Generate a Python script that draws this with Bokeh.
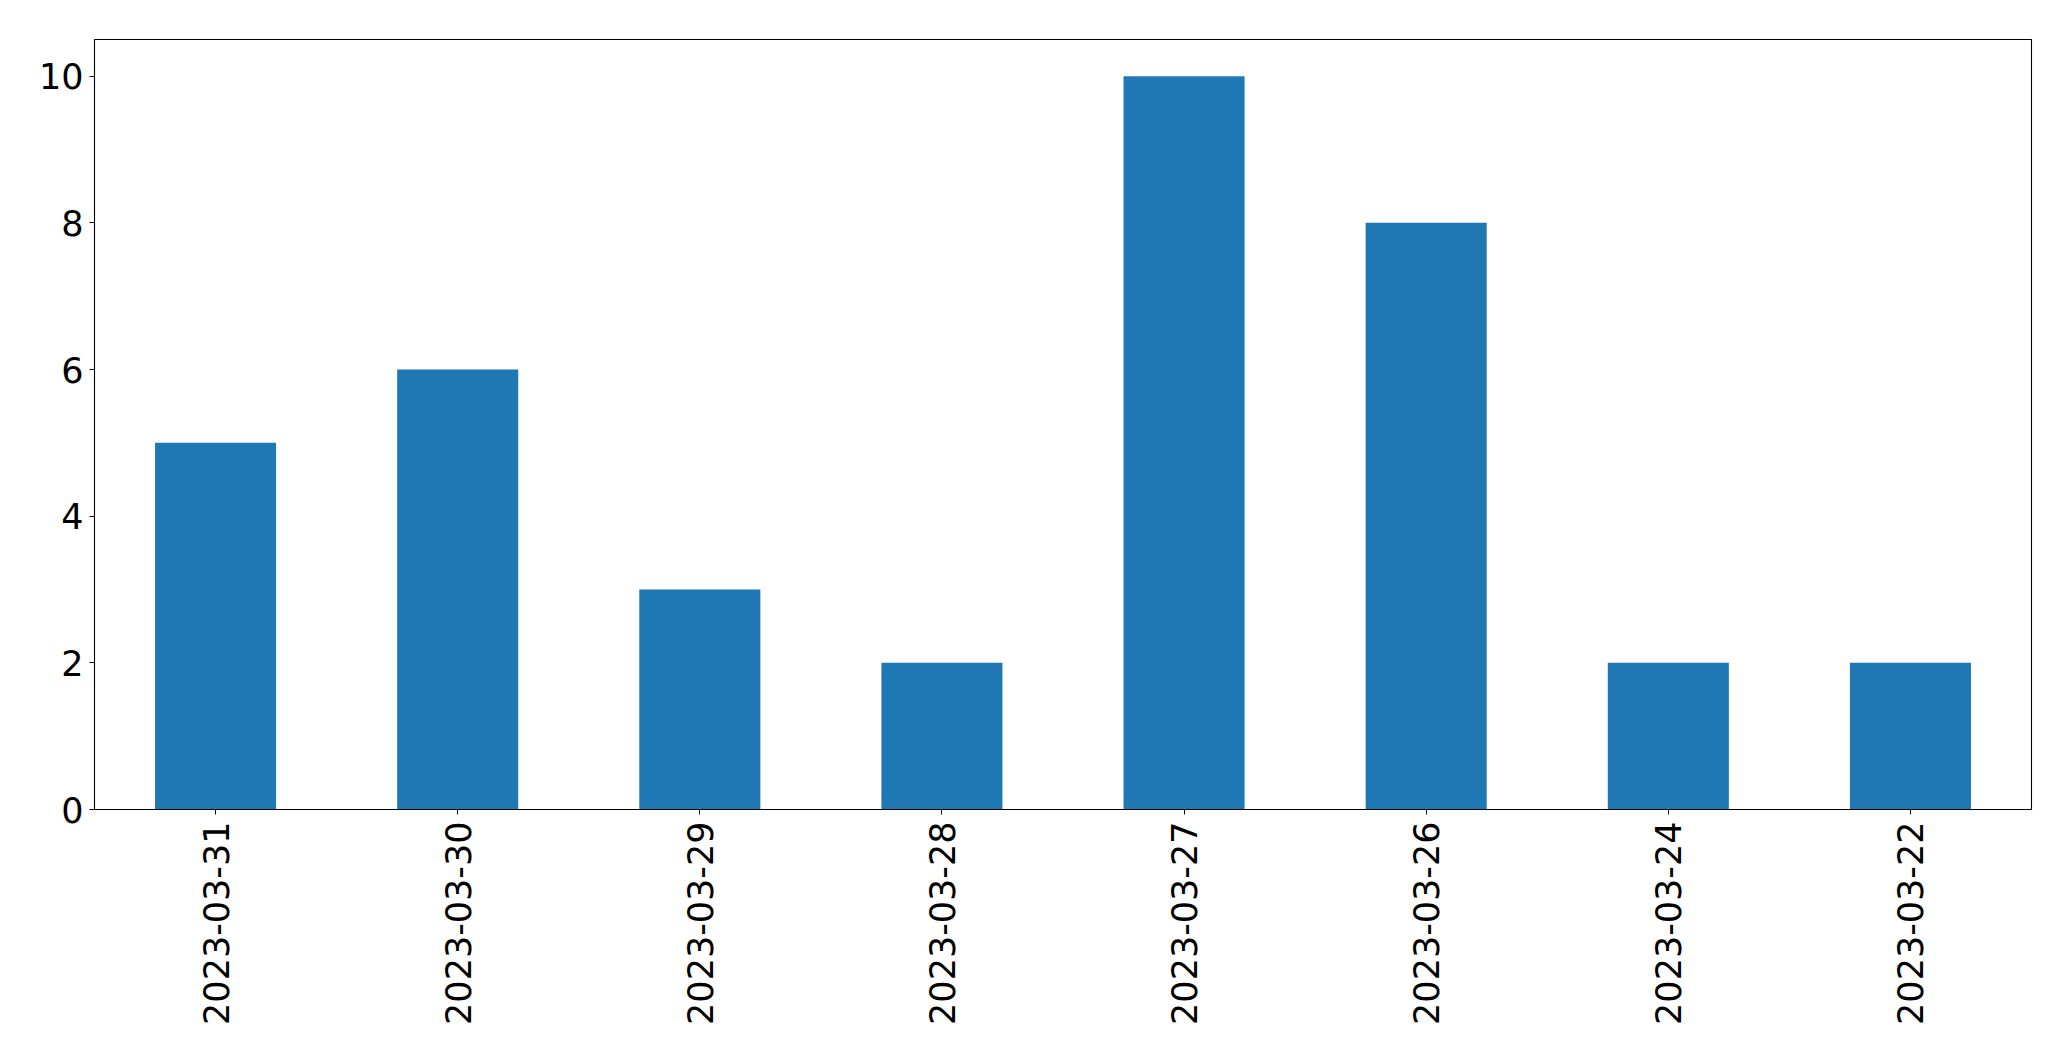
import math
from bokeh.plotting import figure
from bokeh.models import FixedTicker, Range1d
from bokeh.embed import file_html
from bokeh.resources import INLINE

dates = ["2023-03-31", "2023-03-30", "2023-03-29", "2023-03-28",
         "2023-03-27", "2023-03-26", "2023-03-24", "2023-03-22"]
counts = [5, 6, 3, 2, 10, 8, 2, 2]
y_ticks = [0, 2, 4, 6, 8, 10]

p = figure(x_range=dates, y_range=Range1d(0, 10.5),
           frame_width=1937, frame_height=770,
           min_border_left=94, min_border_top=39, min_border_right=30, min_border_bottom=200,
           output_backend="svg", toolbar_location=None)

p.vbar(x=dates, top=counts, width=0.5, color="#1f77b4", line_color=None)

p.xgrid.visible = False
p.ygrid.visible = False
p.outline_line_color = "black"
p.outline_line_width = 1.1
p.background_fill_color = "white"
p.border_fill_color = "white"
p.x_range.range_padding = 0

for ax in (p.xaxis, p.yaxis):
    ax.axis_line_color = "black"
    ax.major_tick_line_color = "black"
    ax.major_tick_out = 5
    ax.major_tick_in = 0
    ax.minor_tick_line_color = None
    ax.major_label_text_font = "DejaVu Sans"
    ax.major_label_text_font_size = "35px"
    ax.major_label_text_color = "black"

p.yaxis.ticker = FixedTicker(ticks=y_ticks)
p.yaxis.major_label_standoff = 6
p.xaxis.major_label_orientation = math.pi / 2
p.xaxis.major_label_standoff = 7

open("out.html", "w").write(file_html(p, INLINE))
